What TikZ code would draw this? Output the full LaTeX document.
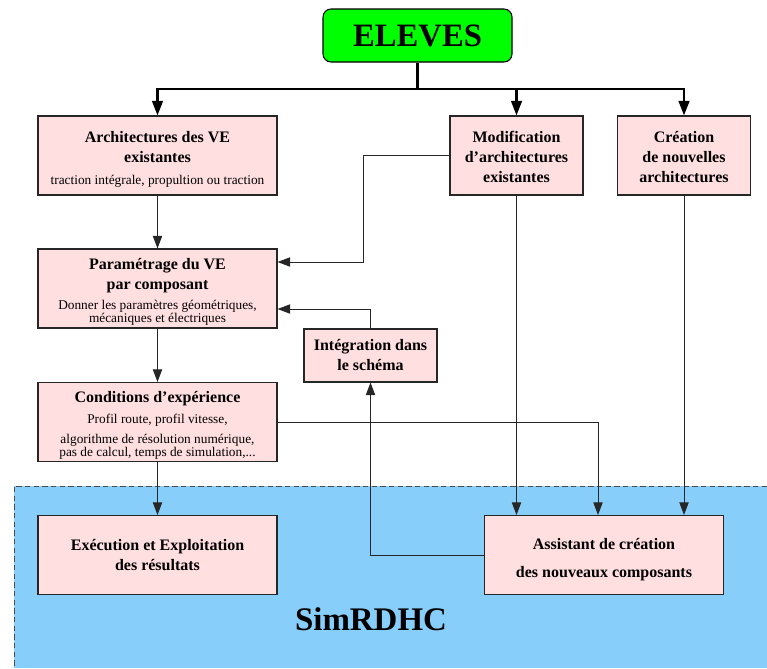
\documentclass[tikz,border=0pt]{standalone}
\usepackage{fontspec}
\setmainfont{Liberation Serif}
\usetikzlibrary{arrows.meta}

\definecolor{rose}{RGB}{255,223,224}
\definecolor{ciel}{RGB}{135,206,250}
\definecolor{vert}{RGB}{0,255,0}

\newcommand{\titre}{\bfseries\fontsize{12}{15}\selectfont}
\newcommand{\sous}{\mdseries\fontsize{10}{10}\selectfont}
\newcommand{\haut}[1][13.4pt]{\rule{0pt}{#1}}

\tikzset{
  boite/.style={draw=black!85, line width=0.8pt, fill=rose, align=center, inner xsep=1pt, inner ysep=0pt, font=\titre},
  grande/.style={boite, minimum width=179.25pt, minimum height=59.25pt},
  petite/.style={boite, minimum width=99.75pt, minimum height=59.25pt},
  fl/.style={draw=black!85, line width=0.75pt, -{Triangle[length=9.5pt,width=7pt]}},
  busfl/.style={line width=1.9pt, -{Triangle[length=11pt,width=8pt]}},
}

\begin{document}
\begin{tikzpicture}[x=0.75pt,y=-0.75pt]
\useasboundingbox (0,0) rectangle (767,668);

\def\ybus{89}
\def\xcoude{363}
\def\ycoude{262}
\def\yretour{309}
\def\xcond{598}

% zone SimRDHC
\fill[ciel] (14,486) rectangle (767,668);
\draw[black!70, line width=0.7pt, dash pattern=on 4pt off 2.5pt] (767,486) -- (14,486) -- (14,668);
\node[font=\bfseries\fontsize{24.7}{30}\selectfont, anchor=base] (sim) at (371,630) {SimRDHC};

\node[draw, line width=0.8pt, fill=vert, rounded corners=6pt, minimum width=141.75pt, minimum height=39.75pt, font=\bfseries\fontsize{24.5}{28}\selectfont] (eleves) at (417.5,35.5) {ELEVES};

\node[grande] (archi) at (157.5,155.5) {\haut[14.2pt]Architectures des VE\\existantes\\[1pt]{\sous traction intégrale, propultion ou traction}};
\node[petite] (modif) at (516.5,155.5) {\haut[11.2pt]Modification\\d'architectures\\existantes};
\node[petite] (creat) at (684,155.5) {\haut[11.2pt]Création\\de nouvelles\\architectures};
\node[grande] (param) at (157.5,288.5) {\haut Paramétrage du VE\\par composant\\{\sous Donner les paramètres géométriques,}\\[-5pt]{\sous mécaniques et électriques}};
\node[petite, minimum height=39.75pt] (integ) at (370.5,355.5) {Intégration dans\\le schéma};
\node[grande] (cond) at (157.5,422) {\haut Conditions d'expérience\\[1pt]{\sous Profil route, profil vitesse,}\\{\sous algorithme de résolution numérique,}\\[-5pt]{\sous pas de calcul, temps de simulation,...}};
\node[grande] (exec) at (157.5,555) {Exécution et Exploitation\\des résultats};
\node[grande] (assist) at (604,555) {\haut[15.7pt]Assistant de création\\[6pt]des nouveaux composants};

\coordinate (bus) at (0,\ybus);
\coordinate (k1) at (\xcoude,\ycoude);
\coordinate (k2) at (0,\yretour);
\coordinate (k3) at (\xcond,0);

% distribution depuis ELEVES
\draw[line width=1.9pt] (eleves.south) -- (eleves.south |- bus);
\draw[line width=1.9pt, line cap=rect] (bus -| archi.north) -- (bus -| creat.north);
\foreach \b in {archi,modif,creat}
  \draw[busfl] (bus -| \b.north) -- (\b.north);

\draw[fl] (archi) -- (param);
\draw[fl] (param) -- (cond);
\draw[fl] (cond) -- (exec);
\draw[fl] (modif.west) -| (k1) -- (k1 -| param.east);
\draw[fl] (integ.north) |- (k2 -| param.east);
\draw[fl] (cond.east) -| (k3 |- assist.north);
\draw[fl] (modif) -- (modif |- assist.north);
\draw[fl] (creat) -- (creat |- assist.north);
\draw[fl] (assist.west) -| (integ.south);

\end{tikzpicture}
\end{document}
